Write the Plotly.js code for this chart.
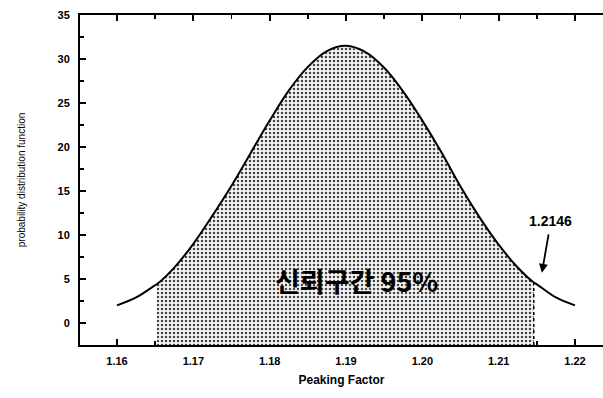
<!DOCTYPE html>
<html>
<head>
<meta charset="utf-8">
<script src="https://cdn.plot.ly/plotly-3.0.1.min.js"></script>
<style>html,body{margin:0;padding:0;background:#fff;}#chart{width:603px;height:398px;}</style>
</head>
<body>
<div id="chart"></div>
<script>
// Values
const peakingFactor = [1.1600, 1.1625, 1.1650, 1.1652, 1.1675, 1.1700, 1.1725, 1.1750, 1.1775, 1.1800, 1.1825, 1.1850, 1.1875, 1.1900, 1.1925, 1.1950, 1.1975, 1.2000, 1.2025, 1.2050, 1.2075, 1.2100, 1.2125, 1.2146, 1.2150, 1.2175, 1.2200];
const pdfValues     = [2.0, 2.9, 4.3, 4.4, 6.3, 9.0, 12.2, 15.6, 19.3, 23.0, 26.4, 29.1, 30.9, 31.5, 30.8, 29.0, 26.3, 23.0, 19.4, 15.5, 12.0, 8.9, 6.3, 4.6, 4.4, 2.9, 2.0];
const ciLow = 1.1652;
const ciHigh = 1.2146;
const xRange = [1.15515, 1.22367];
const yRange = [-2.5, 35];
const xTickVals = [1.16, 1.17, 1.18, 1.19, 1.20, 1.21, 1.22];
const xTickText = ['1.16', '1.17', '1.18', '1.19', '1.20', '1.21', '1.22'];
const yTickVals = [0, 5, 10, 15, 20, 25, 30, 35];
const ciLabel = '신뢰구간 95%';
const upperLabel = '1.2146';

// Build shaded region polygon from the data
const shadeX = [], shadeY = [];
peakingFactor.forEach((x, i) => { if (x >= ciLow && x <= ciHigh) { shadeX.push(x); shadeY.push(pdfValues[i]); } });
const polyX = [shadeX[0]].concat(shadeX, [shadeX[shadeX.length - 1], shadeX[0]]);
const polyY = [yRange[0]].concat(shadeY, [yRange[0], yRange[0]]);

const tickFont = {family: 'Liberation Sans, Arial, sans-serif', size: 11, color: '#000', weight: 'bold'};

const traces = [
  {
    x: polyX, y: polyY, type: 'scatter', mode: 'lines', fill: 'toself',
    line: {width: 0, color: 'rgba(0,0,0,0)'},
    fillcolor: '#d0d0d0',
    fillpattern: {shape: '.', fgcolor: '#444', bgcolor: '#f6f6f6', size: 4, solidity: 0.32},
    hoverinfo: 'skip', showlegend: false
  },
  {
    x: [ciHigh, ciHigh], y: [yRange[0], shadeY[shadeY.length - 1]], type: 'scatter', mode: 'lines',
    line: {color: '#000', width: 1.5, dash: 'dot'}, showlegend: false, hoverinfo: 'skip'
  },
  {
    x: peakingFactor, y: pdfValues, type: 'scatter', mode: 'lines',
    line: {color: '#000', width: 2, shape: 'spline'}, showlegend: false
  }
];

const layout = {
  width: 603, height: 398,
  margin: {l: 80, r: 0, t: 15, b: 53},
  paper_bgcolor: '#fff', plot_bgcolor: '#fff',
  showlegend: false,
  xaxis: {
    range: xRange, tickvals: xTickVals, ticktext: xTickText,
    ticks: 'inside', ticklen: 6, tickwidth: 2, tickcolor: '#000',
    minor: {dtick: 0.005, ticks: 'inside', ticklen: 4, tickwidth: 1.5, tickcolor: '#000', showgrid: false},
    showline: true, linewidth: 2, linecolor: '#000', mirror: 'ticks',
    showgrid: false, zeroline: false, layer: 'below traces',
    tickfont: tickFont, ticklabelstandoff: 5,
    title: {text: 'Peaking Factor', font: {family: 'Liberation Sans, Arial, sans-serif', size: 12, color: '#000', weight: 'bold'}, standoff: 9}
  },
  yaxis: {
    range: yRange, tickvals: yTickVals,
    ticks: 'inside', ticklen: 6, tickwidth: 2, tickcolor: '#000',
    minor: {dtick: 2.5, tick0: 0, ticks: 'inside', ticklen: 4, tickwidth: 1.5, tickcolor: '#000', showgrid: false},
    showline: true, linewidth: 2, linecolor: '#000',
    showgrid: false, zeroline: false, layer: 'below traces',
    tickfont: tickFont, ticklabelstandoff: 6,
    title: {text: 'probability distribution function', font: {family: 'Liberation Sans, Arial, sans-serif', size: 10, color: '#000'}, standoff: 30}
  },
  annotations: [
    {x: 1.19133, y: 4.8, xref: 'x', yref: 'y', text: ciLabel, showarrow: false,
     font: {family: 'Noto Sans CJK KR, sans-serif', size: 27, color: '#000', weight: 'bold'}},
    {x: 1.21675, y: 11.6, xref: 'x', yref: 'y', text: upperLabel, showarrow: false,
     font: {family: 'Liberation Sans, Arial, sans-serif', size: 14, color: '#000', weight: 'bold'}},
    {x: 1.21566, y: 5.7, xref: 'x', yref: 'y', text: '', showarrow: true,
     ax: 7, ay: -40, arrowhead: 2, arrowsize: 1, arrowwidth: 1.8, arrowcolor: '#000'}
  ]
};

Plotly.newPlot('chart', traces, layout, {displayModeBar: false, staticPlot: true});
</script>
</body>
</html>
